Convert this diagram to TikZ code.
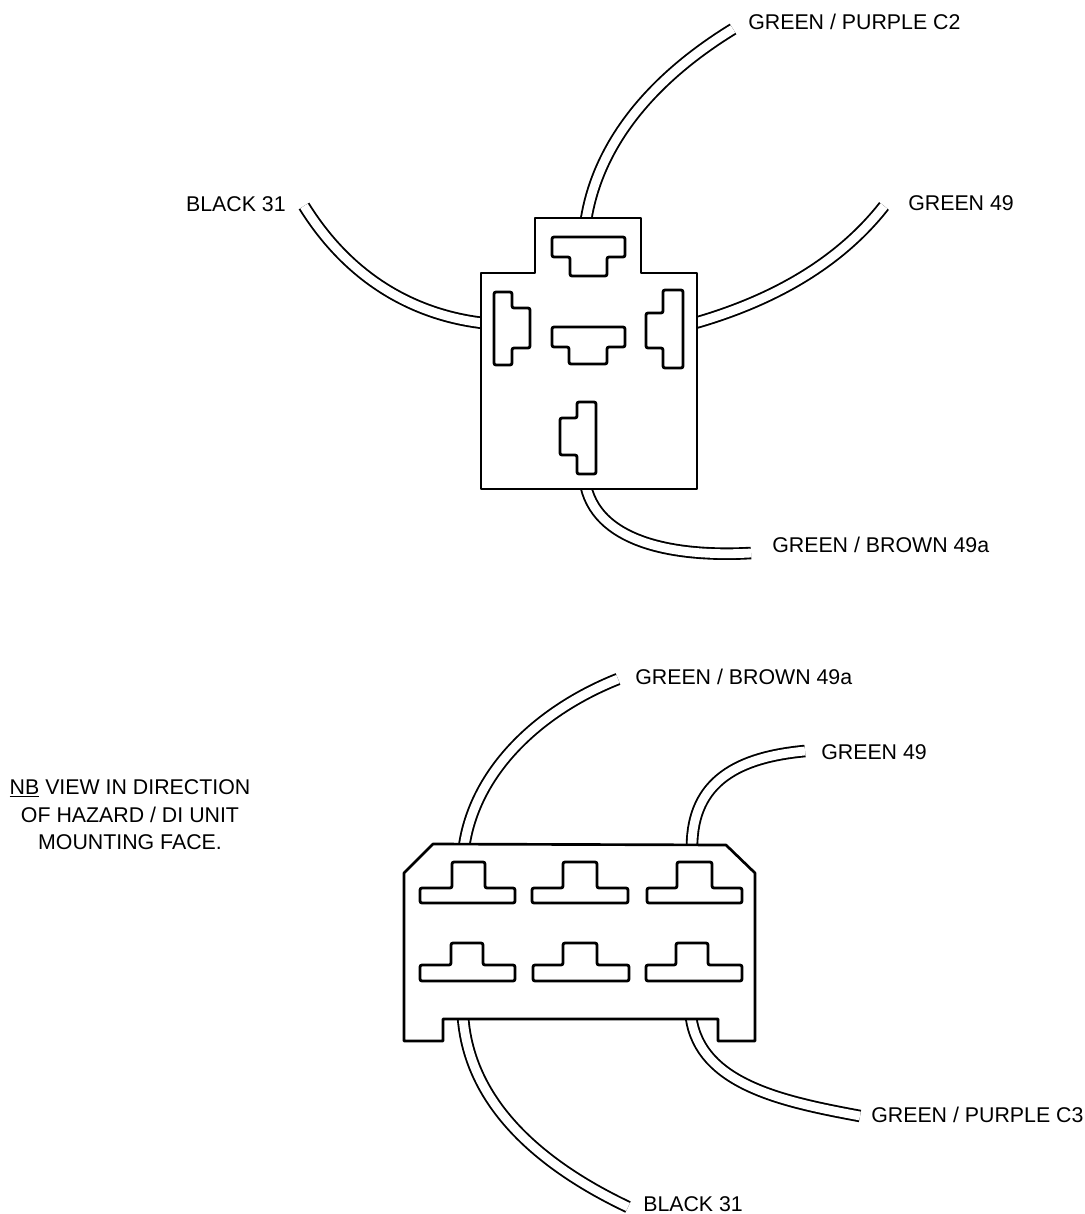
\documentclass[tikz,border=0pt]{standalone}
\usepackage{fontspec}
\setmainfont{Liberation Sans}

\tikzset{
	wire/.style={double=white,double distance=6.6pt,line width=1.4pt,draw=black},
	body/.style={draw=black,fill=white,line width=2pt,line join=round},
	blade/.style={draw=black,fill=white,line width=2.1pt,rounded corners=1.5pt},
	lbl/.style={inner sep=0pt,font=\fontsize{16}{20.6}\selectfont},
	px/.style={x=0.75pt,y=-0.75pt}
}
\newcommand{\bladeUp}[7]{% x: left, stem left, stem right, right; y: stem top, shoulder, bottom
	\draw[blade] (#1,#6) -- (#2,#6) -- (#2,#5) -- (#3,#5) -- (#3,#6) -- (#4,#6) -- (#4,#7) -- (#1,#7) -- cycle;
}
\newcommand{\bladeDown}[7]{% x: left, stem left, stem right, right; y: top, shoulder, stem bottom
	\draw[blade] (#1,#5) -- (#4,#5) -- (#4,#6) -- (#3,#6) -- (#3,#7) -- (#2,#7) -- (#2,#6) -- (#1,#6) -- cycle;
}
\newcommand{\bladeSide}[7]{% y: top, stem top, stem bottom, bottom; x: back, shoulder, stem end
	\draw[blade] (#5,#1) -- (#6,#1) -- (#6,#2) -- (#7,#2) -- (#7,#3) -- (#6,#3) -- (#6,#4) -- (#5,#4) -- cycle;
}

\begin{document}
\begin{tikzpicture}[px]
	\useasboundingbox (0,0) rectangle (1085,1214);

	% labels
	\node[lbl,anchor=west] (purpleTop) at (748,22) {GREEN / PURPLE C2};
	\node[lbl,anchor=east] (blackTop) at (286,204) {BLACK 31};
	\node[lbl,anchor=west] (greenTop) at (908,203) {GREEN 49};
	\node[lbl,anchor=west] (brownTop) at (772,545) {GREEN / BROWN 49a};
	\node[lbl,anchor=west] (brownLow) at (635,677) {GREEN / BROWN 49a};
	\node[lbl,anchor=west] (greenLow) at (821,752) {GREEN 49};
	\node[lbl,anchor=west] (purpleLow) at (871,1115) {GREEN / PURPLE C3};
	\node[lbl,anchor=west] (blackLow) at (643,1204) {BLACK 31};
	\node[lbl,align=center] (note) at (130,815) {\underline{NB} VIEW IN DIRECTION\\OF HAZARD / DI UNIT\\MOUNTING FACE.};

	% free ends of the wires
	\coordinate (endPurpleTop) at (733,29);
	\coordinate (endBlackTop) at (304,206);
	\coordinate (endGreenTop) at (884,206);
	\coordinate (endBrownTop) at (751,553);
	\coordinate (endBrownLow) at (618,679);
	\coordinate (endGreenLow) at (805,751);
	\coordinate (endPurpleLow) at (860,1116);
	\coordinate (endBlackLow) at (628,1207);

	% ends on the connectors
	\coordinate (topN) at (586,220);
	\coordinate (topW) at (483,323);
	\coordinate (topE) at (695,323);
	\coordinate (topS) at (586,487);
	\coordinate (lowNW) at (464,847);
	\coordinate (lowNE) at (692,847);
	\coordinate (lowSW) at (463,1017);
	\coordinate (lowSE) at (691,1017);

	\draw[wire] (topN) .. controls (598,145) and (650,80) .. (endPurpleTop);
	\draw[wire] (topW) .. controls (415,315) and (350,280) .. (endBlackTop);
	\draw[wire] (topE) .. controls (775,300) and (840,262) .. (endGreenTop);
	\draw[wire] (topS) .. controls (600,545) and (680,557) .. (endBrownTop);
	\draw[wire] (lowNW) .. controls (475,770) and (540,710) .. (endBrownLow);
	\draw[wire] (lowNE) .. controls (692,780) and (740,757) .. (endGreenLow);
	\draw[wire] (lowSW) .. controls (470,1110) and (550,1170) .. (endBlackLow);
	\draw[wire] (lowSE) .. controls (700,1085) and (785,1102) .. (endPurpleLow);

	% upper connector
	\draw[body] (535,273) -- (535,218) -- (641,218) -- (641,273) -- (697,273) -- (697,489) -- (481,489) -- (481,273) -- cycle;
	\bladeDown{552}{570}{607}{625}{237}{257}{276}
	\bladeDown{552}{569}{607}{625}{327}{347}{364}
	\bladeSide{292}{308}{348}{365}{494}{512}{530}
	\bladeSide{290}{313}{348}{368}{683}{663}{646}
	\bladeSide{402}{418}{455}{474}{596}{577}{560}

	% lower connector
	\draw[body] (404,873) -- (433,844) -- (726,845) -- (755,873) -- (755,1041) -- (718,1041) -- (718,1019) -- (443,1019) -- (443,1041) -- (404,1041) -- cycle;
	\bladeUp{420}{452}{485}{515}{862}{888}{903}
	\bladeUp{532}{563}{597}{628}{862}{888}{903}
	\bladeUp{647}{677}{712}{742}{862}{888}{903}
	\bladeUp{420}{451}{483}{515}{943}{965}{981}
	\bladeUp{533}{563}{597}{629}{943}{965}{981}
	\bladeUp{646}{676}{708}{742}{943}{965}{981}
\end{tikzpicture}
\end{document}
